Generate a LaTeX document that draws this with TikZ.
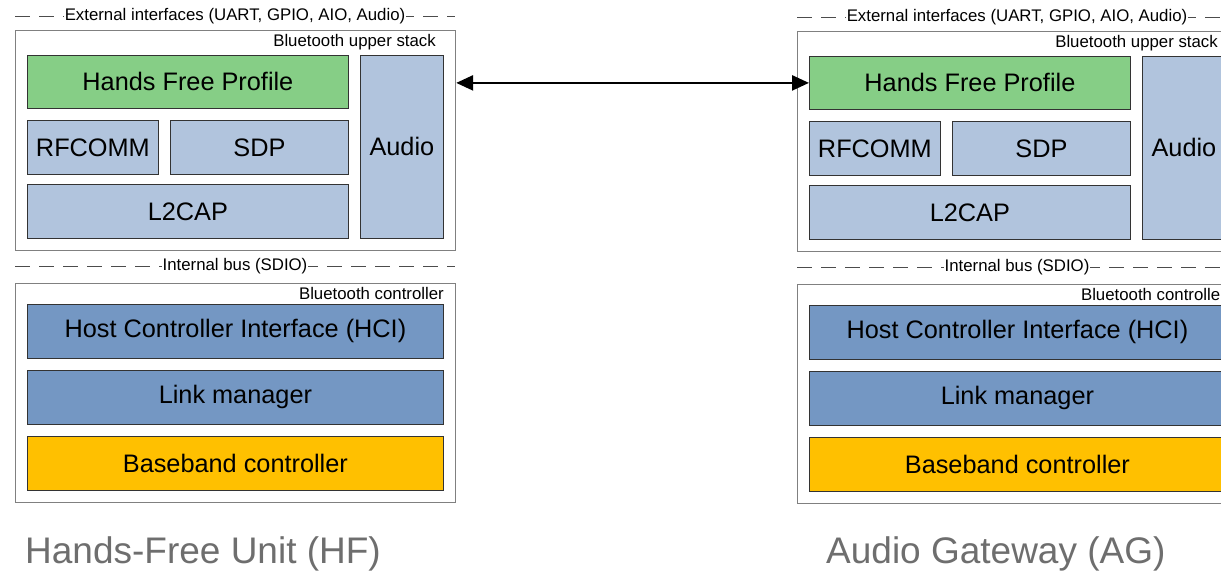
\documentclass[tikz,border=0pt]{standalone}
\usepackage{fontspec}
\setmainfont{Liberation Sans}
\usetikzlibrary{positioning}
\usetikzlibrary{arrows.meta}
\definecolor{profgreen}{HTML}{86CE86}
\definecolor{stackblue}{HTML}{B1C4DD}
\definecolor{ctrlblue}{HTML}{7497C3}
\definecolor{bbamber}{HTML}{FFC000}
\definecolor{capgray}{HTML}{6E6E6E}

\begin{document}
\begin{tikzpicture}
    [
    x=1pt, y=-1pt,
    frame/.style = {draw=black!50, line width=1.2pt, anchor=north west, inner sep=0pt},
    layer/.style = {draw=black!80, line width=0.8pt, anchor=north west, inner sep=0pt, font=\fontsize{25.3}{30}\selectfont},
    tag/.style = {anchor=base east, inner sep=0pt, font=\fontsize{16.8}{20}\selectfont},
    busline/.style = {draw=black!70, line width=0.8pt, dash pattern=on 15pt off 9pt},
    buslabel/.style = {fill=white, inner sep=1pt, font=\fontsize{16.8}{20}\selectfont},
    caption/.style = {anchor=base west, inner sep=0pt, text=capgray, font=\fontsize{37}{44}\selectfont},
    link/.style = {{Triangle[length=17pt,width=15pt]}-{Triangle[length=17pt,width=15pt]}, line width=2.5pt}
    ]
\useasboundingbox (0,0) rectangle (1221,571);
\clip (0,0) rectangle (1221,571);

\foreach \s/\dx/\dy in {hf/0/0, ag/782/1}
{
\begin{scope}[shift={(\dx,\dy)}]
% upper stack
\draw[busline] (15,16) -- node[buslabel] (\s-ext) {External interfaces (UART, GPIO, AIO, Audio)} (455,16);
\node[frame, minimum width=440pt, minimum height=220pt] (\s-upper) at (15,30) {};
\node[tag] (\s-uppertag) at (436,46.5) {Bluetooth upper stack};
\node[layer, fill=profgreen, minimum width=321pt, minimum height=53pt] (\s-hfp) at (27,55) {Hands Free Profile};
\node[layer, fill=stackblue, minimum width=83pt, minimum height=183pt] (\s-audio) at (360,55) {Audio};
\node[layer, fill=stackblue, minimum width=131pt, minimum height=54pt] (\s-rfcomm) at (27,120) {RFCOMM};
\node[layer, fill=stackblue, minimum width=178pt, minimum height=54pt] (\s-sdp) at (170,120) {SDP};
\node[layer, fill=stackblue, minimum width=321pt, minimum height=54pt] (\s-l2cap) at (27,184) {L2CAP};
% controller
\draw[busline] (15,266) -- node[buslabel] (\s-bus) {Internal bus (SDIO)} (455,266);
\node[frame, minimum width=440pt, minimum height=219pt] (\s-ctrl) at (15,283) {};
\node[tag] (\s-ctrltag) at (444,299) {Bluetooth controller};
\node[layer, fill=ctrlblue, minimum width=416pt, minimum height=54pt] (\s-hci) at (27,304) {Host Controller Interface (HCI)};
\node[layer, fill=ctrlblue, minimum width=416pt, minimum height=54pt] (\s-lm) at (27,370) {Link manager};
\node[layer, fill=bbamber, minimum width=416pt, minimum height=54pt] (\s-bb) at (27,436) {Baseband controller};
\end{scope}
}

\draw[link] (hf-upper.east |- ag-hfp.west) -- (ag-hfp.west);

\node[caption] (hfname) at (25,563) {Hands-Free Unit (HF)};
\node[caption] (agname) at (826,563) {Audio Gateway (AG)};
\end{tikzpicture}
\end{document}
